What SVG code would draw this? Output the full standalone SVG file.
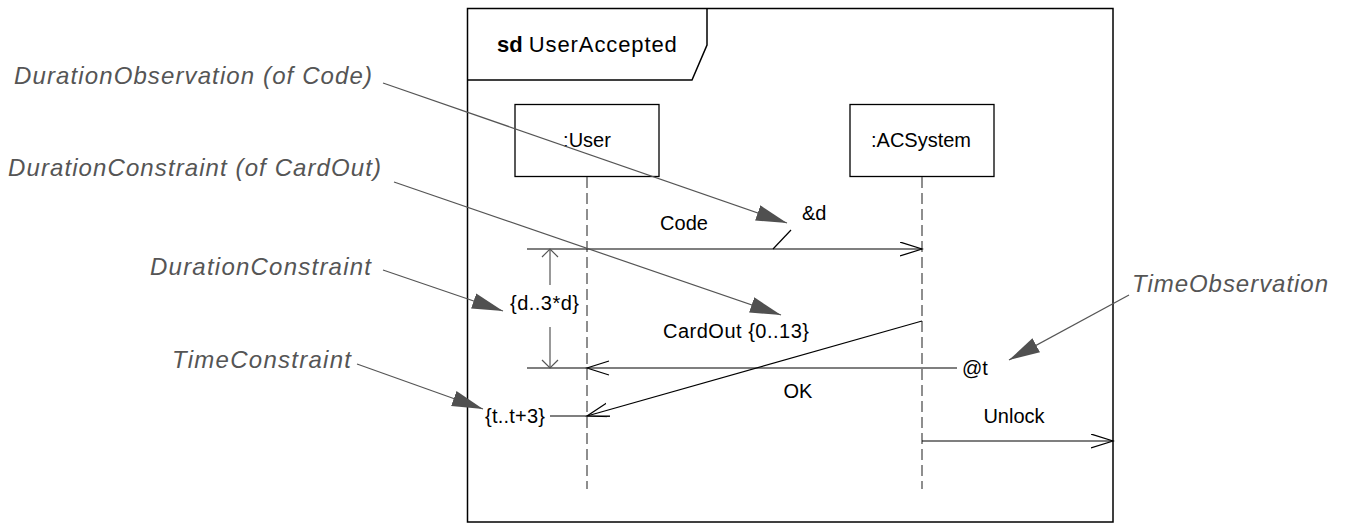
<svg xmlns="http://www.w3.org/2000/svg" width="1347" height="525" viewBox="0 0 1347 525">
<defs>
<style>
.t{font-family:"Liberation Sans",Arial,sans-serif;font-size:20px;fill:#000}
.a{font-family:"Liberation Sans",Arial,sans-serif;font-size:24px;font-style:italic;fill:#555}
.msg{stroke:#000;stroke-width:1.2;fill:none}
.ann{stroke:#555;stroke-width:1.2;fill:none}
.life{stroke:#444;stroke-width:1.2;stroke-dasharray:11 5;fill:none}
.box{fill:#fff;stroke:#000;stroke-width:1.3}
</style>
<marker id="open" markerUnits="userSpaceOnUse" markerWidth="24" markerHeight="16" refX="22" refY="7" orient="auto" viewBox="0 0 24 16">
<path d="M0,0 L22,7 L0,14" fill="none" stroke="#000" stroke-width="1.2"/>
</marker>
<marker id="fill" markerUnits="userSpaceOnUse" markerWidth="32" markerHeight="18" refX="31" refY="8" orient="auto" viewBox="0 0 32 18">
<path d="M0,0 L31,8 L0,16 z" fill="#505050"/>
</marker>
</defs>
<rect width="1347" height="525" fill="#fff"/>
<g id="frame">
<rect x="467.5" y="8.5" width="645.5" height="513.5" fill="none" stroke="#000" stroke-width="1.5"/>
<path d="M467.5,80 L692,80 L707,45 L707,8.5" fill="none" stroke="#000" stroke-width="1.5"/>
<text x="497" y="52" class="t" style="font-size:22px"><tspan font-weight="bold">sd</tspan> <tspan textLength="148">UserAccepted</tspan></text>
</g>
<g id="user">
<rect class="box" x="515" y="104.5" width="144" height="72"/>
<text x="587" y="147" class="t" text-anchor="middle">:User</text>
<line class="life" x1="587" y1="177" x2="587" y2="489"/>
</g>
<g id="acsystem">
<rect class="box" x="850" y="104.5" width="144" height="72"/>
<text x="921" y="147" class="t" text-anchor="middle">:ACSystem</text>
<line class="life" x1="922" y1="177" x2="922" y2="489"/>
</g>
<g id="connectors">
<line class="msg" x1="527" y1="249" x2="922" y2="249" marker-end="url(#open)"/>
<line class="msg" x1="773" y1="249" x2="791" y2="230"/>
<line class="msg" x1="957" y1="368" x2="527" y2="368"/>
<path class="msg" d="M609,361 L587,368 L609,375"/>
<line class="msg" x1="922" y1="321" x2="587" y2="416" marker-end="url(#open)"/>
<line class="msg" x1="550" y1="416" x2="610" y2="416"/>
<line class="msg" x1="922" y1="441" x2="1113" y2="441" marker-end="url(#open)"/>
<g stroke="#555" stroke-width="1.2" fill="none">
<line x1="550" y1="249" x2="550" y2="285"/>
<line x1="550" y1="327" x2="550" y2="368"/>
<path d="M542,257 L550,249 L558,257"/>
<path d="M542,360 L550,368 L558,360"/>
</g>
<line class="ann" x1="383" y1="83" x2="787" y2="223" marker-end="url(#fill)"/>
<line class="ann" x1="394" y1="182" x2="781" y2="315" marker-end="url(#fill)"/>
<line class="ann" x1="383" y1="270" x2="503" y2="311" marker-end="url(#fill)"/>
<line class="ann" x1="357" y1="364" x2="483" y2="409" marker-end="url(#fill)"/>
<line class="ann" x1="1129" y1="295" x2="1009" y2="360" marker-end="url(#fill)"/>
</g>
<g id="labels">
<text x="684" y="230" class="t" text-anchor="middle">Code</text>
<text x="802" y="220" class="t">&amp;d</text>
<text x="663" y="338" class="t" textLength="146">CardOut {0..13}</text>
<text x="798" y="398" class="t" text-anchor="middle">OK</text>
<text x="962" y="375" class="t">@t</text>
<text x="1014" y="423" class="t" text-anchor="middle">Unlock</text>
<text x="510" y="310" class="t" textLength="69">{d..3*d}</text>
<text x="485" y="423" class="t" textLength="60">{t..t+3}</text>
</g>
<g id="annotations">
<text x="14" y="84" class="a" textLength="358">DurationObservation (of Code)</text>
<text x="8" y="176" class="a" textLength="373">DurationConstraint (of CardOut)</text>
<text x="150" y="275" class="a" textLength="221">DurationConstraint</text>
<text x="172" y="368" class="a" textLength="179">TimeConstraint</text>
<text x="1132" y="292" class="a" textLength="196">TimeObservation</text>
</g>
</svg>
